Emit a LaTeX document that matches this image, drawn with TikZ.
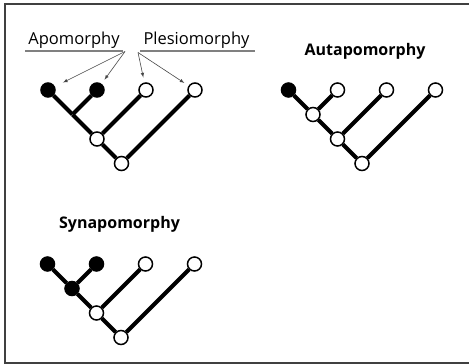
\documentclass[tikz,border=0pt]{standalone}
\usepackage{fontspec}
\setmainfont{Open Sans}
\usetikzlibrary{arrows,calc}

\begin{document}
\begin{tikzpicture}[>=latex,x=1pt,y=-1pt]
%===DEF. COMPONENTS====
\tikzset{leaf/.style ={circle, draw, fill = white, line width = 1.5pt, minimum size = 14pt, inner sep = 0pt}}
\tikzset{derived/.style ={leaf, fill = black}}
\tikzset{knot/.style ={circle, inner sep = 0pt, minimum size = 0pt}}
\tikzset{branch/.style ={line width = 4pt}}
\tikzset{freccia/.style ={->, gray!55!black, line width = 0.6pt, shorten >= 5pt}}
\tikzset{sotto/.style ={gray, line width = 1.5pt}}
\tikzset{nome/.style ={anchor = base, inner sep = 0pt, font = \fontsize{16.5}{18}\selectfont}}
\tikzset{titolo/.style ={nome, font = \bfseries\fontsize{16}{18}\selectfont}}
\tikzset{frame/.style ={black!75, line width = 1.5pt}}

 \def\cladogramma(#1,#2,#3,#4,#5,#6){
 \begin{scope}[shift={(#1,#2)}]
 \node[#4] (#3l1) at (0,0){};
 \node[#5] (#3l2) at (49,0){};
 \node[leaf] (#3l3) at (98,0){};
 \node[leaf] (#3l4) at (147,0){};
 \node[#6] (#3n1) at (24.5,24.5){};
 \node[leaf] (#3n2) at (49,49){};
 \node[leaf] (#3n3) at (73.5,73.5){};
 \draw[branch] (#3l1) -- (#3n1) -- (#3n2) -- (#3n3);
 \draw[branch] (#3l2) -- (#3n1);
 \draw[branch] (#3l3) -- (#3n2);
 \draw[branch] (#3l4) -- (#3n3);
 \end{scope}
}
%===box===
\useasboundingbox (0,0) rectangle (469,364);
\draw[frame] (469,4) -- (5,4) -- (5,363) -- (469,363);
%===trees===
\cladogramma(48,90,a,derived,derived,knot)
\cladogramma(288.5,90,b,derived,leaf,leaf)
\cladogramma(47.5,264,c,derived,derived,derived)
%===names===
\node[nome] (tapo) at (74,44.3) {Apomorphy};
\node[nome] (tple) at (196.5,44.3) {Plesiomorphy};
\node[titolo] (taut) at (365,55) {Autapomorphy};
\node[titolo] (tsyn) at (119.5,228.3) {Synapomorphy};
%===underline===
\coordinate (u1) at (25,51); \coordinate (u2) at (123,51);
\coordinate (u3) at (140,51); \coordinate (u4) at (255,51);
\draw[sotto] (u1) -- (u2); \draw[sotto] (u3) -- (u4);
%===arrows===
\coordinate (apo) at (125,51.5);
\coordinate (ple) at (138,52.5);
\draw[freccia, shorten >= 9pt] (apo) -- (al1);
\draw[freccia] (apo) -- (al2);
\draw[freccia] (ple) -- (al3);
\draw[freccia] (ple) -- (al4);
\end{tikzpicture}
\end{document}
